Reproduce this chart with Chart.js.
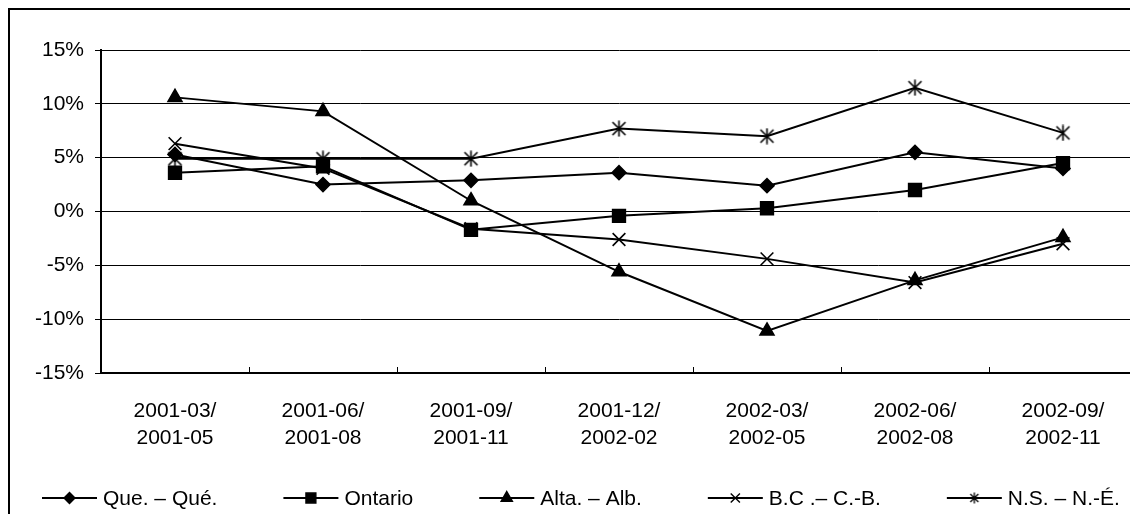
<!DOCTYPE html>
<html>
<head>
<meta charset="utf-8">
<script src="https://cdn.jsdelivr.net/npm/chart.js@4/dist/chart.umd.min.js"></script>
<style>
  html, body { margin: 0; padding: 0; background: #fff; overflow: hidden; width: 1130px; height: 514px; }
  #frame { position: absolute; left: 8px; top: 8px; width: 1200px; height: 600px; border: 2px solid #000; box-sizing: border-box; }
  #wrap { position: absolute; left: 0; top: 0; width: 1150px; height: 514px; }
</style>
</head>
<body>
<div id="frame"></div>
<div id="wrap"><canvas id="c" width="1150" height="514"></canvas></div>
<script>
// ---- Data ----
const categories = [
  ['2001-03/', '2001-05'],
  ['2001-06/', '2001-08'],
  ['2001-09/', '2001-11'],
  ['2001-12/', '2002-02'],
  ['2002-03/', '2002-05'],
  ['2002-06/', '2002-08'],
  ['2002-09/', '2002-11']
];
const seriesNames = ['Que. – Qué.', 'Ontario', 'Alta. – Alb.', 'B.C .– C.-B.', 'N.S. – N.-É.'];
const queValues     = [5.3, 2.5, 2.9, 3.6, 2.4, 5.5, 4.0];
const ontarioValues = [3.6, 4.2, -1.7, -0.4, 0.3, 2.0, 4.5];
const altaValues    = [10.6, 9.3, 1.0, -5.6, -11.1, -6.4, -2.4];
const bcValues      = [6.3, 4.0, -1.6, -2.6, -4.4, -6.6, -3.0];
const nsValues      = [4.9, 4.9, 4.9, 7.7, 7.0, 11.5, 7.3];
const yTickMin = -15, yTickMax = 15, yTickStep = 5;

// ---- Custom asterisk marker (X + vertical bar) ----
function makeAsterisk(size, lw) {
  const cv = document.createElement('canvas');
  cv.width = size; cv.height = size;
  const g = cv.getContext('2d');
  const c = size / 2, d = size / 2 - 2;
  g.strokeStyle = '#000'; g.lineWidth = lw;
  g.beginPath();
  g.moveTo(c, 0.5); g.lineTo(c, size - 0.5);
  g.moveTo(c - d, c - d); g.lineTo(c + d, c + d);
  g.moveTo(c + d, c - d); g.lineTo(c - d, c + d);
  g.stroke();
  return cv;
}
const asteriskBig = makeAsterisk(17, 1.6);
const asteriskSmall = makeAsterisk(12, 1.3);

const styles = [
  { pointStyle: 'rectRot', radius: 7, legendStyle: 'rectRot', legendRadius: 5.5 },
  { pointStyle: 'rect', radius: 9, legendStyle: 'rect', legendRadius: 7 },
  { pointStyle: 'triangle', radius: 8, legendStyle: 'triangle', legendRadius: 6.5 },
  { pointStyle: 'crossRot', radius: 9, legendStyle: 'crossRot', legendRadius: 6.5 },
  { pointStyle: asteriskBig, radius: 9, legendStyle: asteriskSmall, legendRadius: 6 }
];
const allValues = [queValues, ontarioValues, altaValues, bcValues, nsValues];

const datasets = allValues.map((vals, i) => ({
  label: seriesNames[i],
  data: vals,
  borderColor: '#000',
  borderWidth: 2,
  backgroundColor: '#000',
  pointBackgroundColor: '#000',
  pointBorderColor: '#000',
  pointBorderWidth: 1.6,
  pointStyle: styles[i].pointStyle,
  pointRadius: styles[i].radius,
  pointHoverRadius: styles[i].radius,
  tension: 0,
  fill: false,
  clip: false
}));

const FONT = "'Liberation Sans', Arial, sans-serif";
const legendLeft = 42, legendY = 498, sampleLen = 55, textGap = 6, itemGap = 66;

const legendPlugin = {
  id: 'lineMarkerLegend',
  afterDraw(chart) {
    const ctx = chart.ctx;
    let x0 = legendLeft;
    chart.data.datasets.forEach((ds, i) => {
      ctx.save();
      ctx.strokeStyle = '#000';
      ctx.fillStyle = '#000';
      ctx.lineWidth = 2;
      ctx.beginPath();
      ctx.moveTo(x0, legendY);
      ctx.lineTo(x0 + sampleLen, legendY);
      ctx.stroke();
      ctx.lineWidth = 1.4;
      Chart.helpers.drawPoint(ctx, {
        pointStyle: styles[i].legendStyle,
        radius: styles[i].legendRadius,
        borderWidth: 1.4,
        rotation: 0
      }, x0 + sampleLen / 2, legendY);
      ctx.fillStyle = '#000';
      ctx.font = '21px ' + FONT;
      ctx.textBaseline = 'middle';
      ctx.textAlign = 'left';
      const tx = x0 + sampleLen + textGap;
      ctx.fillText(ds.label, tx, legendY + 1);
      const w = ctx.measureText(ds.label).width;
      ctx.restore();
      x0 = tx + w + itemGap;
    });
  }
};

const innerTicksPlugin = {
  id: 'innerTicks',
  afterDraw(chart) {
    const xs = chart.scales.x;
    const ctx = chart.ctx;
    const bottom = chart.chartArea.bottom;
    ctx.save();
    ctx.strokeStyle = '#000';
    ctx.lineWidth = 1;
    ctx.beginPath();
    for (let i = 0; i < xs.ticks.length - 1; i++) {
      const px = Math.round((xs.getPixelForValue(i) + xs.getPixelForValue(i + 1)) / 2) + 0.5;
      ctx.moveTo(px, bottom);
      ctx.lineTo(px, bottom - 6);
    }
    ctx.stroke();
    ctx.restore();
  }
};

new Chart(document.getElementById('c'), {
  type: 'line',
  data: { labels: categories, datasets },
  plugins: [legendPlugin, innerTicksPlugin],
  options: {
    responsive: false,
    animation: false,
    devicePixelRatio: 1,
    layout: { padding: { left: 0, top: 50, right: 13, bottom: 0 } },
    plugins: { legend: { display: false }, tooltip: { enabled: false } },
    scales: {
      x: {
        offset: true,
        grid: { display: false, drawTicks: false, offset: true },
        border: { display: true, color: '#000', width: 2 },
        ticks: {
          color: '#000',
          font: { family: FONT, size: 21, lineHeight: 1.31 },
          padding: 24,
          maxRotation: 0,
          autoSkip: false
        },
        afterFit(s) { s.height = 141; }
      },
      y: {
        min: yTickMin,
        max: yTickMax,
        grid: { color: '#000', lineWidth: 1, drawTicks: true, tickLength: 6 },
        border: { display: true, color: '#000', width: 2 },
        ticks: {
          stepSize: yTickStep,
          color: '#000',
          font: { family: FONT, size: 21 },
          padding: 11,
          callback: v => v + '%'
        },
        afterFit(s) { s.width = 101; }
      }
    }
  }
});
</script>
</body>
</html>
